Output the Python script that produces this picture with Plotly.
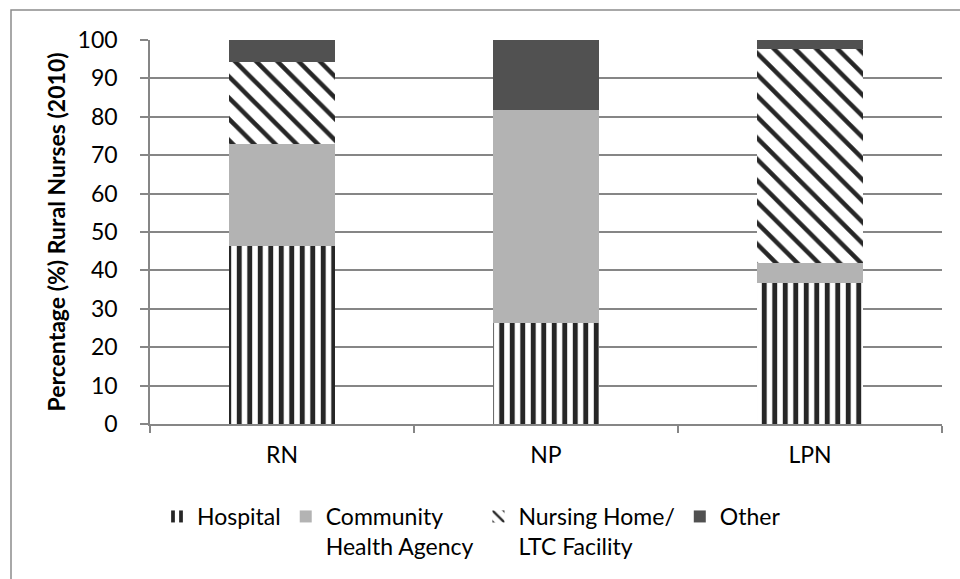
import plotly.graph_objects as go

# Share of rural nurses by work setting, 2010 (percent of each nurse type)
categories = ["RN", "NP", "LPN"]
hospital = [46.3, 26.2, 36.6]
community = [26.5, 55.6, 5.2]
nursing_home = [21.4, 0.0, 55.8]
other = [5.8, 18.2, 2.4]
y_ticks = list(range(0, 101, 10))

W, H = 960, 579
M_L, M_R, M_T, M_B = 150, 18, 40, 155
FONT = "Lato, 'Open Sans', sans-serif"

fig = go.Figure()

fig.add_trace(go.Bar(
    name="Hospital", x=categories, y=hospital,
    marker=dict(color="#262626", line=dict(width=0),
                pattern=dict(shape="|", fgcolor="#262626", bgcolor="white",
                             size=10.5, solidity=0.47, fillmode="replace")),
))
fig.add_trace(go.Bar(
    name="Community<br>Health Agency", x=categories, y=community,
    marker=dict(color="#b3b3b3", line=dict(width=0)),
))
fig.add_trace(go.Bar(
    name="Nursing Home/<br>LTC Facility", x=categories, y=nursing_home,
    marker=dict(color="#262626", line=dict(width=0),
                pattern=dict(shape="\\", fgcolor="#262626", bgcolor="white",
                             size=15, solidity=0.3, fillmode="replace")),
))
fig.add_trace(go.Bar(
    name="Other", x=categories, y=other,
    marker=dict(color="#515151", line=dict(width=0)),
))

plot_w = W - M_L - M_R
plot_h = H - M_T - M_B


def px_x(p):
    return (p - M_L) / plot_w


def px_y(p):
    return 1 - (p - M_T) / plot_h


# outer chart frame (left and top edges visible)
fig.add_shape(type="rect", xref="paper", yref="paper",
              x0=px_x(11), x1=px_x(W + 20), y0=px_y(H + 20), y1=px_y(10),
              line=dict(color="#8c8c8c", width=1.5), fillcolor="rgba(0,0,0,0)",
              layer="below")

fig.update_layout(
    width=W, height=H,
    barmode="stack", bargap=0.6,
    margin=dict(l=M_L, r=M_R, t=M_T, b=M_B, autoexpand=False),
    paper_bgcolor="white", plot_bgcolor="white",
    font=dict(family=FONT, size=23, color="#000000"),
    showlegend=True,
    legend=dict(orientation="h", x=px_x(157), xanchor="left",
                y=px_y(495), yanchor="top", valign="top",
                font=dict(family=FONT, size=23, color="#000000"),
                traceorder="normal", itemwidth=30, tracegroupgap=0),
    xaxis=dict(showline=True, linecolor="#868686", linewidth=1.5,
               ticks="outside", tickson="boundaries", ticklen=7,
               tickcolor="#868686", tickwidth=1.5,
               showgrid=False, ticklabelstandoff=10, fixedrange=True),
    yaxis=dict(range=[0, 100], tickvals=y_ticks, showline=True,
               linecolor="#868686", linewidth=1.5,
               ticks="outside", ticklen=8, tickcolor="#868686", tickwidth=1.5,
               showgrid=True, gridcolor="#868686", gridwidth=1.5,
               zeroline=False, ticklabelstandoff=18,
               title=dict(text="<b>Percentage (%) Rural Nurses (2010)</b>",
                          font=dict(family=FONT, size=23), standoff=6),
               fixedrange=True),
)

fig.write_html("out.html")
